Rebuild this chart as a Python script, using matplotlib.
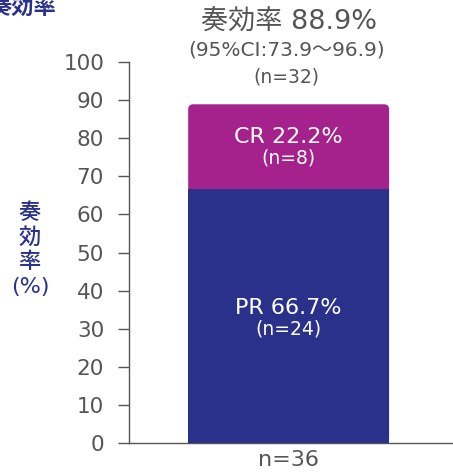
import matplotlib
matplotlib.use("Agg")
import matplotlib.pyplot as plt
from matplotlib.patches import FancyBboxPatch

plt.rcParams['font.family'] = ['DejaVu Sans', 'Noto Sans CJK JP']

# データ
group = ['n=36']
pr_rate = [66.7]
cr_rate = [22.2]
pr_label = ['PR 66.7%', '(n=24)']
cr_label = ['CR 22.2%', '(n=8)']
top_label = ['奏効率 88.9%', '(95%CI:73.9〜96.9)', '(n=32)']
yticks = [0, 10, 20, 30, 40, 50, 60, 70, 80, 90, 100]

blue = '#29318a'
magenta = '#a5218b'
grey = '#555555'

fig = plt.figure(figsize=(4.53, 4.73), dpi=100)
ax = fig.add_axes([0.285, 0.063, 0.715, 0.806])

x = [0]
w = 1.0
# CR部分(上の角を丸める)
total = pr_rate[0] + cr_rate[0]
ax.add_patch(FancyBboxPatch((x[0] - w / 2, 0), w, total,
                            boxstyle='round,pad=0,rounding_size=0.025',
                            mutation_aspect=52.9, facecolor=magenta,
                            edgecolor='none', zorder=2))
ax.bar(x, pr_rate, width=w, color=blue, zorder=3)

ax.set_xlim(-0.794, 0.818)
ax.set_ylim(0, 100)
ax.set_yticks(yticks)
ax.set_xticks(x)
ax.set_xticklabels(group, fontsize=16, color=grey)
ax.tick_params(axis='x', length=0, pad=5)
ax.tick_params(axis='y', length=8, width=1, color=grey, labelsize=15.5,
               labelcolor=grey, pad=10)
for s in ['top', 'right']:
    ax.spines[s].set_visible(False)
for s in ['left', 'bottom']:
    ax.spines[s].set_color(grey)
    ax.spines[s].set_linewidth(1)

# 棒の中の文字
ax.text(0, 35.4, pr_label[0], ha='center', va='center', color='white', fontsize=16, zorder=5)
ax.text(0, 29.9, pr_label[1], ha='center', va='center', color='white', fontsize=13.5, zorder=5)
ax.text(0, 80.3, cr_label[0], ha='center', va='center', color='white', fontsize=16, zorder=5)
ax.text(0, 74.8, cr_label[1], ha='center', va='center', color='white', fontsize=13.5, zorder=5)

# 上部の注記
fig.text(0.638, 0.953, top_label[0], ha='center', va='center', color=grey, fontsize=19.5)
fig.text(0.632, 0.894, top_label[1], ha='center', va='center', color=grey, fontsize=14.5)
fig.text(0.632, 0.837, top_label[2], ha='center', va='center', color=grey, fontsize=13.5)

# 縦軸ラベル
for i, ch in enumerate(['奏', '効', '率', '(%)']):
    fig.text(0.066, 0.55 - i * 0.052, ch, ha='center', va='center', color=blue,
             fontsize=16, fontweight='medium')

# 左上の見出し(切れている)
fig.text(0.05, 0.985, '奏効率', ha='center', va='center', color=blue,
         fontsize=16, fontweight='bold')

fig.savefig('out.png', dpi=100)
